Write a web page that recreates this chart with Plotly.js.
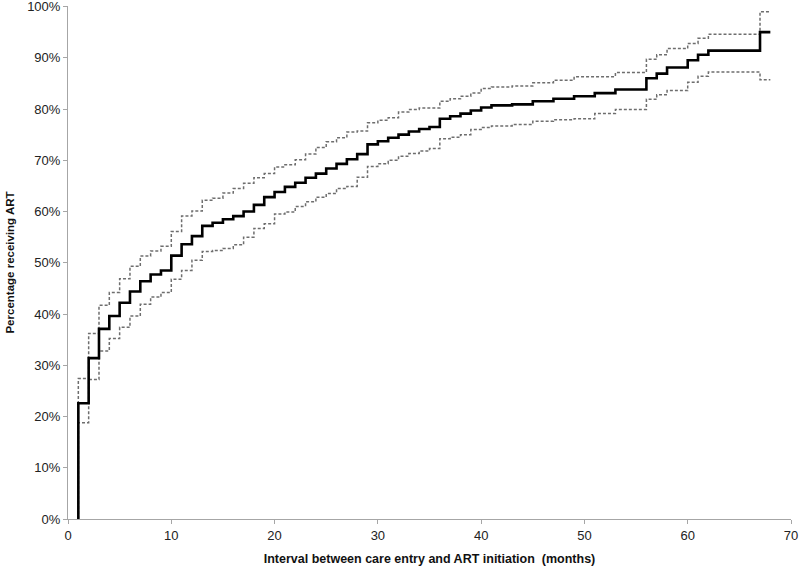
<!DOCTYPE html>
<html>
<head>
<meta charset="utf-8">
<script src="https://cdn.plot.ly/plotly-3.0.1.min.js"></script>
<style>
  body { margin: 0; background: #fff; }
  #chart { width: 800px; height: 573px; }
</style>
</head>
<body>
<div id="chart"></div>
<script>
// months at which the cumulative curve steps
var months = [1, 2, 3, 4, 5, 6, 7, 8, 9, 10, 11, 12, 13, 14, 15, 16, 17, 18, 19, 20,
              21, 22, 23, 24, 25, 26, 27, 28, 29, 30, 31, 32, 33, 34, 35, 36, 37, 38, 39, 40,
              41, 43, 45, 47, 49, 51, 53, 56, 57, 58, 60, 61, 62, 67, 68];

// percentage receiving ART (Kaplan-Meier style estimate)
var estimate = [22.6, 31.4, 37.1, 39.6, 42.2, 44.4, 46.4, 47.7, 48.5, 51.4, 53.6, 55.2, 57.2, 57.8, 58.5, 59.1, 60.0, 61.3, 62.8, 63.8,
                64.8, 65.6, 66.6, 67.4, 68.4, 69.3, 70.2, 71.2, 73.1, 73.7, 74.4, 75.0, 75.6, 76.1, 76.5, 78.1, 78.6, 79.1, 79.7, 80.3,
                80.7, 80.9, 81.5, 82.0, 82.5, 83.1, 83.8, 86.0, 86.9, 88.1, 89.5, 90.6, 91.4, 95.0, 95.0];

// 95% confidence bounds
var upper = [27.4, 36.2, 41.7, 44.2, 46.9, 49.3, 51.3, 52.3, 53.2, 56.1, 59.1, 60.1, 62.2, 62.6, 63.6, 64.5, 65.5, 66.6, 67.4, 68.7,
             69.1, 70.1, 71.2, 72.5, 73.6, 74.4, 75.5, 75.7, 77.3, 77.8, 78.3, 79.4, 79.9, 80.2, 80.2, 81.5, 82.0, 82.5, 83.1, 84.0,
             84.3, 84.5, 85.1, 85.6, 86.3, 86.3, 87.1, 89.7, 90.6, 91.8, 92.8, 93.8, 94.6, 99.0, 99.0];

var lower = [18.8, 27.2, 32.8, 35.2, 37.4, 39.6, 41.9, 43.3, 44.2, 46.8, 48.5, 50.5, 52.2, 52.4, 52.8, 53.5, 55.0, 56.7, 57.6, 59.5,
             59.9, 61.0, 61.9, 62.8, 63.5, 64.5, 64.9, 66.7, 68.8, 69.3, 70.0, 70.8, 71.3, 71.8, 72.3, 74.2, 74.5, 75.0, 76.0, 76.4,
             76.7, 77.0, 77.6, 77.9, 78.1, 79.1, 79.9, 81.9, 82.8, 83.6, 85.2, 86.4, 87.2, 85.7, 85.7];

var yTicks = [0, 10, 20, 30, 40, 50, 60, 70, 80, 90, 100];
var yTickText = ['0%', '10%', '20%', '30%', '40%', '50%', '60%', '70%', '80%', '90%', '100%'];
var xTicks = [0, 10, 20, 30, 40, 50, 60, 70];

// curve rises from 0 at the first month
function withStart(vals) {
    return [0].concat(vals);
}
var xs = [months[0]].concat(months);

var data = [];
var bounds = [upper, lower];
for (var i = 0; i < bounds.length; i++) {
    data.push({
        x: xs,
        y: withStart(bounds[i]),
        mode: 'lines',
        line: {
            shape: 'hv',
            color: '#6e6e6e',
            width: 1.5,
            dash: '3px,2px'
        },
        hoverinfo: 'skip'
    });
}
data.push({
    x: xs,
    y: withStart(estimate),
    mode: 'lines',
    line: {
        shape: 'hv',
        color: '#000000',
        width: 2.6
    }
});

var tickFont = {family: 'Liberation Sans, Arial, sans-serif', size: 13, color: '#222'};
var layout = {
    width: 800,
    height: 573,
    margin: {l: 68, r: 9, t: 6, b: 54},
    paper_bgcolor: '#fff',
    plot_bgcolor: '#fff',
    showlegend: false,
    xaxis: {
        range: [0, 70],
        tickmode: 'array',
        tickvals: xTicks,
        showgrid: false,
        zeroline: false,
        showline: true,
        linecolor: '#a6a6a6',
        linewidth: 1,
        ticks: 'outside',
        ticklen: 4,
        tickcolor: '#a6a6a6',
        tickfont: tickFont,
        title: {
            text: '<b>Interval between care entry and ART initiation  (months)</b>',
            font: {family: 'Liberation Sans, Arial, sans-serif', size: 12.5, color: '#111'},
            standoff: 12
        }
    },
    yaxis: {
        range: [0, 100.1],
        tickmode: 'array',
        tickvals: yTicks,
        ticktext: yTickText,
        ticklabeloverflow: 'allow',
        showgrid: false,
        zeroline: false,
        showline: true,
        linecolor: '#a6a6a6',
        linewidth: 1,
        ticks: 'outside',
        ticklen: 4,
        tickcolor: '#a6a6a6',
        tickfont: tickFont,
        title: {
            text: '<b>Percentage receiving ART</b>',
            font: {family: 'Liberation Sans, Arial, sans-serif', size: 11.5, color: '#111'},
            standoff: 10
        }
    }
};

Plotly.newPlot('chart', data, layout, {displayModeBar: false, staticPlot: true});
</script>
</body>
</html>
